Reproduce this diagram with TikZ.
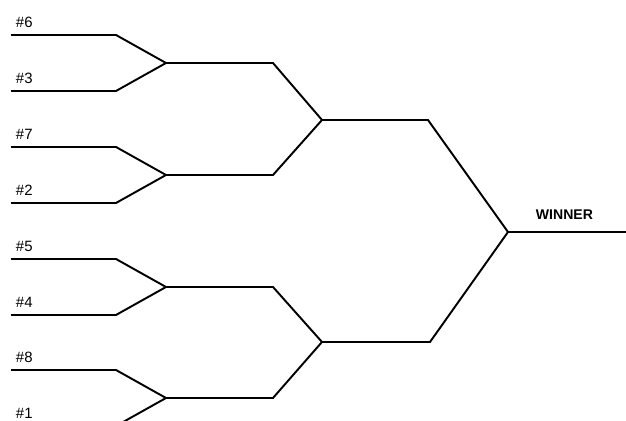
\documentclass[tikz,border=0pt]{standalone}
\usepackage{fontspec}
\setmainfont{Liberation Sans}
\usetikzlibrary{calc}

\begin{document}
\begin{tikzpicture}[x=0.02cm,y=-0.02cm,line width=1.1pt,
  seedlabel/.style={anchor=base west,inner sep=0pt,font=\fontsize{8.5}{10}\selectfont},
  winnerlabel/.style={anchor=base west,inner sep=0pt,font=\fontsize{8}{10}\selectfont\bfseries}]
  \clip (0,0) rectangle (626,421);
  % seeds
  \foreach \seed/\y [count=\i] in {6/35,3/91,7/147,2/203,5/259,4/315,8/370,1/426}{
    \coordinate (s\i) at (11,\y);
    \coordinate (b\i) at (116,\y);
    \node[seedlabel] (l\i) at (15,\y-7) {\#\seed};
  }
  % rounds
  \foreach \y [count=\j] in {63,175,287,398}{
    \coordinate (m\j) at (166,\y);
    \coordinate (n\j) at (273,\y);
  }
  \coordinate (q1) at (322,120);
  \coordinate (r1) at (428,120);
  \coordinate (q2) at (322,342);
  \coordinate (r2) at (430,342);
  \coordinate (w) at (508,232);
  \coordinate (e) at (626,232);
  \foreach \i in {1,...,8}{
    \pgfmathtruncatemacro\j{(\i+1)/2}
    \draw (s\i) -- (b\i) -- (m\j);
  }
  \foreach \j in {1,...,4}{
    \pgfmathtruncatemacro\k{(\j+1)/2}
    \draw (m\j) -- (n\j) -- (q\k);
  }
  \foreach \k in {1,2}
    \draw (q\k) -- (r\k) -- (w);
  \draw (w) -- (e);
  \node[winnerlabel] (win) at (535,220) {WINNER};
\end{tikzpicture}
\end{document}
